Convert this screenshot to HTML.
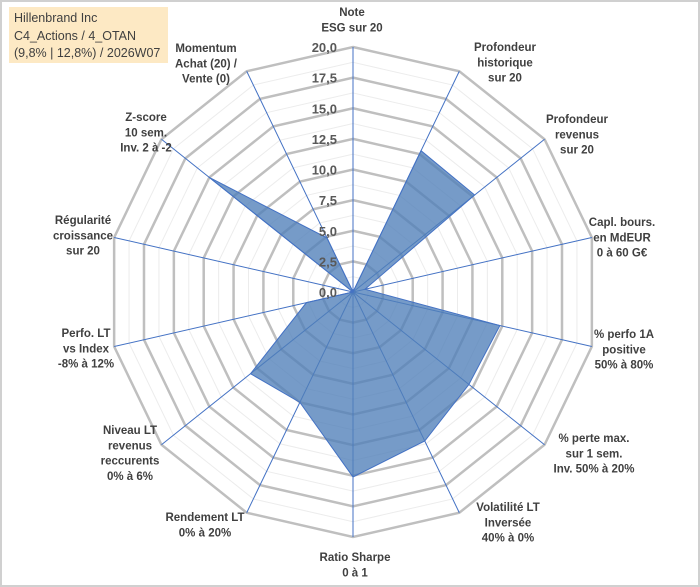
<!DOCTYPE html>
<html><head><meta charset="utf-8"><style>
body{margin:0;background:#fff;}
#wrap{position:relative;width:700px;height:587px;overflow:hidden;font-family:"Liberation Sans",Arial,sans-serif;}
#frame{position:absolute;left:0;top:0;width:696px;height:583px;border:2px solid #d0d0d0;}
#title{position:absolute;left:9px;top:7px;width:159px;height:56px;background:#fde9c4;font-size:12.5px;line-height:17.5px;color:#404040;padding:3px 0 0 5px;box-sizing:border-box;}
svg{position:absolute;left:0;top:0;}
</style></head><body>
<div id="wrap">
<div id="frame"></div>
<svg id="chart" width="700" height="587"></svg>
<div id="title">Hillenbrand Inc<br>C4_Actions / 4_OTAN<br>(9,8% | 12,8%) / 2026W07</div>
</div>
<script>
const categories=[
["Note","ESG sur 20"],["Profondeur","historique","sur 20"],["Profondeur","revenus","sur 20"],
["Capl. bours.","en MdEUR","0 à 60 G€"],["% perfo 1A","positive","50% à 80%"],
["% perte max.","sur 1 sem.","Inv. 50% à 20%"],["Volatilité LT","Inversée","40% à 0%"],
["Ratio Sharpe","0 à 1"],["Rendement LT","0% à 20%"],["Niveau LT","revenus","reccurents","0% à 6%"],
["Perfo. LT","vs Index","-8% à 12%"],["Régularité","croissance","sur 20"],
["Z-score","10 sem.","Inv. 2 à -2"],["Momentum","Achat (20) /","Vente (0)"]];
const values=[0,12.8,12.7,1.0,12.3,12.1,13.5,15.1,10.0,10.7,3.9,0,15.0,4.9];
const tickLabels=["0,0","2,5","5,0","7,5","10,0","12,5","15,0","17,5","20,0"];
const labelPos=[[352,12],[505,47],[577,119],[622,222],[624,334],[594,438],[508,507],[355,557],[205,517],[130,430],[86,333],[83,220],[146,117],[206,48]];
const NS="http://www.w3.org/2000/svg",svg=document.getElementById("chart");
const cx=353,cy=292,R=245,maxV=20,n=categories.length;
function rScale(v){return v/maxV*R;}
function pt(i,v){const a=i*2*Math.PI/n;return [cx+rScale(v)*Math.sin(a),cy-rScale(v)*Math.cos(a)];}
function mk(t,attrs){const e=document.createElementNS(NS,t);for(const k in attrs)e.setAttribute(k,attrs[k]);svg.appendChild(e);return e;}
for(let s=1;s<=16;s++){const v=s*1.25;const major=s%2===0;
 const p=[];for(let i=0;i<n;i++)p.push(pt(i,v).join(","));
 const g=mk("polygon",{points:p.join(" "),fill:"none",stroke:major?"#bfbfbf":"#ececec","stroke-width":major?2.5:1});
 
 }
for(let i=0;i<n;i++){const e=pt(i,maxV);
 const l=mk("line",{x1:cx,y1:cy,x2:e[0],y2:e[1],stroke:"#4472c4","stroke-width":1});
 
 }
const dp=values.map((v,i)=>pt(i,v).join(",")).join(" ");
const poly=mk("polygon",{points:dp,fill:"#4f7fb8","fill-opacity":0.78,stroke:"#4472c4","stroke-width":1});


tickLabels.forEach((t,k)=>{const y=cy-rScale(k*2.5)+5;
 const tx=mk("text",{x:337,y:y,"text-anchor":"end","font-size":"13","font-weight":"bold",fill:"#595959","font-family":"Liberation Sans, Arial, sans-serif"});
 tx.textContent=t;
 
 });
categories.forEach((lines,i)=>{const [x,y]=labelPos[i];
 const tx=mk("text",{x:x,y:y+4,"text-anchor":"middle","font-size":"11.5","font-weight":"bold",fill:"#404040","font-family":"Liberation Sans, Arial, sans-serif"});
 
 
 lines.forEach((s,j)=>{const ts=document.createElementNS(NS,"tspan");ts.setAttribute("x",x);ts.setAttribute("dy",j===0?0:15.3);ts.textContent=s;tx.appendChild(ts);});});
</script>
</body></html>
